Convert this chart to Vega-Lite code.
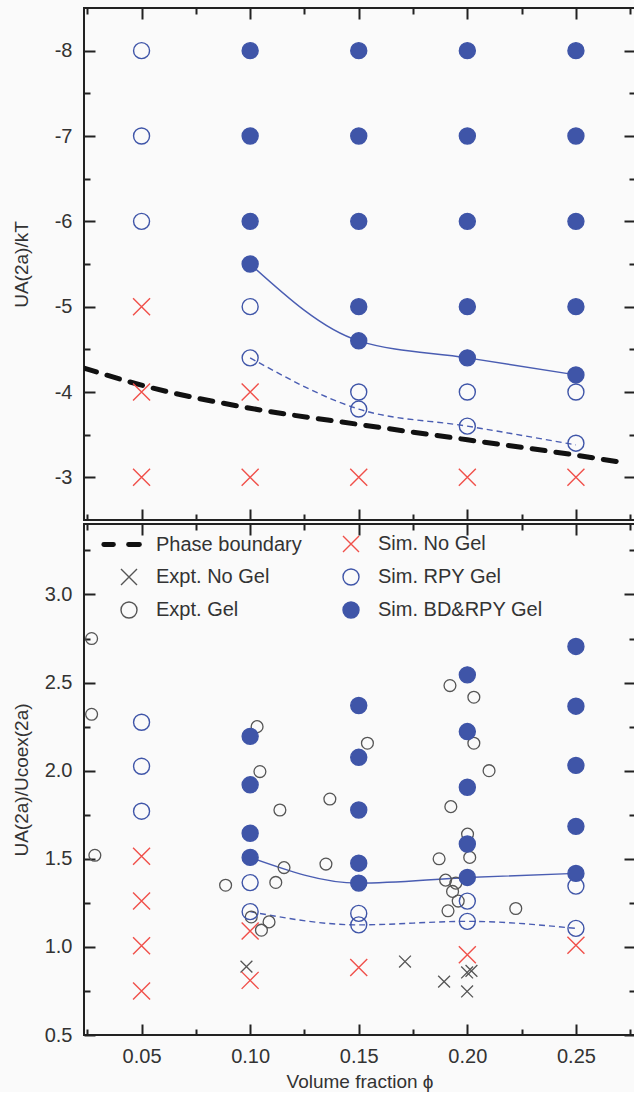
{
  "$schema": "https://vega.github.io/schema/vega-lite/v6.json",
  "background": "#fafafa",
  "padding": {"left": 11, "top": 6, "right": 0, "bottom": 0},
  "spacing": 0,
  "config": {
    "font": "Liberation Sans",
    "view": {"stroke": "#222", "strokeWidth": 2},
    "axis": {"domain": false, "grid": false, "tickColor": "#222", "tickWidth": 2, "labelFont": "Liberation Sans", "labelFontSize": 20, "labelColor": "#333", "labelFlush": false, "labelOverlap": false, "titleFont": "Liberation Sans", "titleFontSize": 19, "titleFontWeight": "normal", "titleColor": "#333"},
    "legend": {"labelFont": "Liberation Sans", "labelFontSize": 20, "labelColor": "#333", "labelLimit": 400}
  },
  "datasets": {
    "topPts": [
      {"phi": 0.05, "u": -8, "series": "Sim. RPY Gel"},
      {"phi": 0.05, "u": -7, "series": "Sim. RPY Gel"},
      {"phi": 0.05, "u": -6, "series": "Sim. RPY Gel"},
      {"phi": 0.05, "u": -5, "series": "Sim. No Gel"},
      {"phi": 0.05, "u": -4, "series": "Sim. No Gel"},
      {"phi": 0.05, "u": -3, "series": "Sim. No Gel"},
      {"phi": 0.10, "u": -8, "series": "Sim. BD&RPY Gel"},
      {"phi": 0.10, "u": -7, "series": "Sim. BD&RPY Gel"},
      {"phi": 0.10, "u": -6, "series": "Sim. BD&RPY Gel"},
      {"phi": 0.10, "u": -5.5, "series": "Sim. BD&RPY Gel"},
      {"phi": 0.10, "u": -5, "series": "Sim. RPY Gel"},
      {"phi": 0.10, "u": -4.4, "series": "Sim. RPY Gel"},
      {"phi": 0.10, "u": -4, "series": "Sim. No Gel"},
      {"phi": 0.10, "u": -3, "series": "Sim. No Gel"},
      {"phi": 0.15, "u": -8, "series": "Sim. BD&RPY Gel"},
      {"phi": 0.15, "u": -7, "series": "Sim. BD&RPY Gel"},
      {"phi": 0.15, "u": -6, "series": "Sim. BD&RPY Gel"},
      {"phi": 0.15, "u": -5, "series": "Sim. BD&RPY Gel"},
      {"phi": 0.15, "u": -4.6, "series": "Sim. BD&RPY Gel"},
      {"phi": 0.15, "u": -4.0, "series": "Sim. RPY Gel"},
      {"phi": 0.15, "u": -3.8, "series": "Sim. RPY Gel"},
      {"phi": 0.15, "u": -3, "series": "Sim. No Gel"},
      {"phi": 0.20, "u": -8, "series": "Sim. BD&RPY Gel"},
      {"phi": 0.20, "u": -7, "series": "Sim. BD&RPY Gel"},
      {"phi": 0.20, "u": -6, "series": "Sim. BD&RPY Gel"},
      {"phi": 0.20, "u": -5, "series": "Sim. BD&RPY Gel"},
      {"phi": 0.20, "u": -4.4, "series": "Sim. BD&RPY Gel"},
      {"phi": 0.20, "u": -4.0, "series": "Sim. RPY Gel"},
      {"phi": 0.20, "u": -3.6, "series": "Sim. RPY Gel"},
      {"phi": 0.20, "u": -3, "series": "Sim. No Gel"},
      {"phi": 0.25, "u": -8, "series": "Sim. BD&RPY Gel"},
      {"phi": 0.25, "u": -7, "series": "Sim. BD&RPY Gel"},
      {"phi": 0.25, "u": -6, "series": "Sim. BD&RPY Gel"},
      {"phi": 0.25, "u": -5, "series": "Sim. BD&RPY Gel"},
      {"phi": 0.25, "u": -4.2, "series": "Sim. BD&RPY Gel"},
      {"phi": 0.25, "u": -4.0, "series": "Sim. RPY Gel"},
      {"phi": 0.25, "u": -3.4, "series": "Sim. RPY Gel"},
      {"phi": 0.25, "u": -3, "series": "Sim. No Gel"}
    ],
    "topLines": [
      {"phi": 0.10, "u": -5.5, "line": "solid"},
      {"phi": 0.15, "u": -4.6, "line": "solid"},
      {"phi": 0.20, "u": -4.4, "line": "solid"},
      {"phi": 0.25, "u": -4.2, "line": "solid"},
      {"phi": 0.10, "u": -4.4, "line": "dashed"},
      {"phi": 0.15, "u": -3.8, "line": "dashed"},
      {"phi": 0.20, "u": -3.6, "line": "dashed"},
      {"phi": 0.25, "u": -3.38, "line": "dashed"}
    ],
    "boundary": [
      {"phi": 0.0235, "u": -4.28},
      {"phi": 0.05, "u": -4.08},
      {"phi": 0.10, "u": -3.81},
      {"phi": 0.15, "u": -3.62},
      {"phi": 0.20, "u": -3.44},
      {"phi": 0.25, "u": -3.26},
      {"phi": 0.27, "u": -3.18}
    ],
    "botExpt": [
      {"phi": 0.027, "r": 2.75, "series": "Expt. Gel"},
      {"phi": 0.027, "r": 2.32, "series": "Expt. Gel"},
      {"phi": 0.0285, "r": 1.52, "series": "Expt. Gel"},
      {"phi": 0.0887, "r": 1.35, "series": "Expt. Gel"},
      {"phi": 0.1005, "r": 1.17, "series": "Expt. Gel"},
      {"phi": 0.1032, "r": 2.25, "series": "Expt. Gel"},
      {"phi": 0.1045, "r": 1.995, "series": "Expt. Gel"},
      {"phi": 0.1052, "r": 1.095, "series": "Expt. Gel"},
      {"phi": 0.1087, "r": 1.142, "series": "Expt. Gel"},
      {"phi": 0.1118, "r": 1.366, "series": "Expt. Gel"},
      {"phi": 0.1137, "r": 1.777, "series": "Expt. Gel"},
      {"phi": 0.1156, "r": 1.45, "series": "Expt. Gel"},
      {"phi": 0.1349, "r": 1.47, "series": "Expt. Gel"},
      {"phi": 0.1367, "r": 1.839, "series": "Expt. Gel"},
      {"phi": 0.154, "r": 2.156, "series": "Expt. Gel"},
      {"phi": 0.187, "r": 1.5, "series": "Expt. Gel"},
      {"phi": 0.19, "r": 1.379, "series": "Expt. Gel"},
      {"phi": 0.1911, "r": 1.205, "series": "Expt. Gel"},
      {"phi": 0.192, "r": 2.483, "series": "Expt. Gel"},
      {"phi": 0.1924, "r": 1.796, "series": "Expt. Gel"},
      {"phi": 0.1932, "r": 1.315, "series": "Expt. Gel"},
      {"phi": 0.1947, "r": 1.362, "series": "Expt. Gel"},
      {"phi": 0.1958, "r": 1.26, "series": "Expt. Gel"},
      {"phi": 0.2001, "r": 1.64, "series": "Expt. Gel"},
      {"phi": 0.2011, "r": 1.508, "series": "Expt. Gel"},
      {"phi": 0.203, "r": 2.417, "series": "Expt. Gel"},
      {"phi": 0.203, "r": 2.156, "series": "Expt. Gel"},
      {"phi": 0.21, "r": 2.0, "series": "Expt. Gel"},
      {"phi": 0.2223, "r": 1.218, "series": "Expt. Gel"},
      {"phi": 0.0983, "r": 0.888, "series": "Expt. No Gel"},
      {"phi": 0.1713, "r": 0.917, "series": "Expt. No Gel"},
      {"phi": 0.1893, "r": 0.803, "series": "Expt. No Gel"},
      {"phi": 0.1999, "r": 0.855, "series": "Expt. No Gel"},
      {"phi": 0.2019, "r": 0.864, "series": "Expt. No Gel"},
      {"phi": 0.1999, "r": 0.747, "series": "Expt. No Gel"}
    ],
    "botSim": [
      {"phi": 0.05, "r": 2.275, "series": "Sim. RPY Gel"},
      {"phi": 0.05, "r": 2.025, "series": "Sim. RPY Gel"},
      {"phi": 0.05, "r": 1.77, "series": "Sim. RPY Gel"},
      {"phi": 0.10, "r": 1.365, "series": "Sim. RPY Gel"},
      {"phi": 0.10, "r": 1.2, "series": "Sim. RPY Gel"},
      {"phi": 0.15, "r": 1.19, "series": "Sim. RPY Gel"},
      {"phi": 0.15, "r": 1.125, "series": "Sim. RPY Gel"},
      {"phi": 0.20, "r": 1.26, "series": "Sim. RPY Gel"},
      {"phi": 0.20, "r": 1.145, "series": "Sim. RPY Gel"},
      {"phi": 0.25, "r": 1.345, "series": "Sim. RPY Gel"},
      {"phi": 0.25, "r": 1.105, "series": "Sim. RPY Gel"},
      {"phi": 0.10, "r": 2.195, "series": "Sim. BD&RPY Gel"},
      {"phi": 0.10, "r": 1.92, "series": "Sim. BD&RPY Gel"},
      {"phi": 0.10, "r": 1.645, "series": "Sim. BD&RPY Gel"},
      {"phi": 0.10, "r": 1.508, "series": "Sim. BD&RPY Gel"},
      {"phi": 0.15, "r": 2.37, "series": "Sim. BD&RPY Gel"},
      {"phi": 0.15, "r": 2.076, "series": "Sim. BD&RPY Gel"},
      {"phi": 0.15, "r": 1.777, "series": "Sim. BD&RPY Gel"},
      {"phi": 0.15, "r": 1.475, "series": "Sim. BD&RPY Gel"},
      {"phi": 0.15, "r": 1.362, "series": "Sim. BD&RPY Gel"},
      {"phi": 0.20, "r": 2.544, "series": "Sim. BD&RPY Gel"},
      {"phi": 0.20, "r": 2.222, "series": "Sim. BD&RPY Gel"},
      {"phi": 0.20, "r": 1.906, "series": "Sim. BD&RPY Gel"},
      {"phi": 0.20, "r": 1.584, "series": "Sim. BD&RPY Gel"},
      {"phi": 0.20, "r": 1.394, "series": "Sim. BD&RPY Gel"},
      {"phi": 0.25, "r": 2.705, "series": "Sim. BD&RPY Gel"},
      {"phi": 0.25, "r": 2.366, "series": "Sim. BD&RPY Gel"},
      {"phi": 0.25, "r": 2.03, "series": "Sim. BD&RPY Gel"},
      {"phi": 0.25, "r": 1.684, "series": "Sim. BD&RPY Gel"},
      {"phi": 0.25, "r": 1.417, "series": "Sim. BD&RPY Gel"},
      {"phi": 0.05, "r": 1.514, "series": "Sim. No Gel"},
      {"phi": 0.05, "r": 1.26, "series": "Sim. No Gel"},
      {"phi": 0.05, "r": 1.006, "series": "Sim. No Gel"},
      {"phi": 0.05, "r": 0.75, "series": "Sim. No Gel"},
      {"phi": 0.10, "r": 1.09, "series": "Sim. No Gel"},
      {"phi": 0.10, "r": 0.81, "series": "Sim. No Gel"},
      {"phi": 0.15, "r": 0.883, "series": "Sim. No Gel"},
      {"phi": 0.20, "r": 0.955, "series": "Sim. No Gel"},
      {"phi": 0.25, "r": 1.01, "series": "Sim. No Gel"}
    ],
    "botLines": [
      {"phi": 0.10, "r": 1.508, "line": "solid"},
      {"phi": 0.15, "r": 1.362, "line": "solid"},
      {"phi": 0.20, "r": 1.394, "line": "solid"},
      {"phi": 0.25, "r": 1.417, "line": "solid"},
      {"phi": 0.10, "r": 1.2, "line": "dashed"},
      {"phi": 0.15, "r": 1.125, "line": "dashed"},
      {"phi": 0.20, "r": 1.145, "line": "dashed"},
      {"phi": 0.25, "r": 1.105, "line": "dashed"}
    ]
  },
  "resolve": {"scale": {"shape": "independent", "stroke": "independent", "fill": "independent"}},
  "vconcat": [
    {
      "width": 551,
      "height": 512,
      "resolve": {"axis": {"x": "independent", "y": "independent"}},
      "layer": [
        {
          "data": {"name": "boundary"},
          "mark": {"type": "line", "color": "#111", "strokeWidth": 5, "strokeDash": [13, 11], "strokeCap": "round", "interpolate": "monotone", "clip": true},
          "encoding": {
            "x": {"field": "phi", "type": "quantitative", "scale": {"domain": [0.0235, 0.2772], "nice": false, "zero": false},
                  "axis": {"orient": "bottom", "values": [0.05, 0.1, 0.15, 0.2, 0.25], "tickSize": -11, "labels": false, "title": null}},
            "y": {"field": "u", "type": "quantitative", "scale": {"domain": [-8.5, -2.5], "reverse": true, "nice": false, "zero": false},
                  "axis": {"orient": "left", "values": [-8, -7, -6, -5, -4, -3], "tickSize": -11, "labelPadding": 23, "labelExpr": "'-' + abs(datum.value)", "title": "UA(2a)/kT", "titlePadding": 17, "minExtent": 36, "maxExtent": 36}}
          }
        },
        {
          "data": {"name": "topLines"},
          "transform": [{"filter": "datum.line === 'solid'"}],
          "mark": {"type": "line", "color": "#4a5db2", "strokeWidth": 1.4, "interpolate": "monotone"},
          "encoding": {
            "x": {"field": "phi", "type": "quantitative", "scale": {"domain": [0.0235, 0.2772], "nice": false, "zero": false},
                  "axis": {"orient": "bottom", "values": [0.025, 0.075, 0.125, 0.175, 0.225, 0.275], "tickSize": -6, "labels": false, "title": null}},
            "y": {"field": "u", "type": "quantitative", "scale": {"domain": [-8.5, -2.5], "reverse": true, "nice": false, "zero": false},
                  "axis": {"orient": "left", "values": [-7.5, -6.5, -5.5, -4.5, -3.5], "tickSize": -6, "labels": false, "title": null}}
          }
        },
        {
          "data": {"name": "topLines"},
          "transform": [{"filter": "datum.line === 'dashed'"}],
          "mark": {"type": "line", "color": "#4a5db2", "strokeWidth": 1.4, "strokeDash": [6, 4], "interpolate": "monotone"},
          "encoding": {
            "x": {"field": "phi", "type": "quantitative", "scale": {"domain": [0.0235, 0.2772], "nice": false, "zero": false},
                  "axis": {"orient": "top", "values": [0.05, 0.1, 0.15, 0.2, 0.25], "tickSize": -11, "labels": false, "title": null}},
            "y": {"field": "u", "type": "quantitative", "scale": {"domain": [-8.5, -2.5], "reverse": true, "nice": false, "zero": false},
                  "axis": {"orient": "right", "values": [-8, -7, -6, -5, -4, -3], "tickSize": -11, "labels": false, "title": null}}
          }
        },
        {
          "data": {"name": "topPts"},
          "mark": {"type": "point", "opacity": 1, "strokeWidth": 1.4},
          "encoding": {
            "x": {"field": "phi", "type": "quantitative", "scale": {"domain": [0.0235, 0.2772], "nice": false, "zero": false},
                  "axis": {"orient": "top", "values": [0.025, 0.075, 0.125, 0.175, 0.225, 0.275], "tickSize": -6, "labels": false, "title": null}},
            "y": {"field": "u", "type": "quantitative", "scale": {"domain": [-8.5, -2.5], "reverse": true, "nice": false, "zero": false},
                  "axis": {"orient": "right", "values": [-7.5, -6.5, -5.5, -4.5, -3.5], "tickSize": -6, "labels": false, "title": null}},
            "shape": {"field": "series", "type": "nominal", "legend": null,
                      "scale": {"domain": ["Phase boundary", "Expt. No Gel", "Expt. Gel", "Sim. No Gel", "Sim. RPY Gel", "Sim. BD&RPY Gel"],
                                "range": ["M-3.15,-0.22L-1.95,-0.22A0.22,0.22 0 0 1 -1.95,0.22L-3.15,0.22A0.22,0.22 0 0 1 -3.15,-0.22ZM-0.05,-0.22L1.3,-0.22A0.22,0.22 0 0 1 1.3,0.22L-0.05,0.22A0.22,0.22 0 0 1 -0.05,-0.22Z", "M-1,-1L1,1M-1,1L1,-1", "circle", "M-1,-1L1,1M-1,1L1,-1", "circle", "circle"]}},
            "stroke": {"field": "series", "type": "nominal", "legend": null,
                       "scale": {"domain": ["Phase boundary", "Expt. No Gel", "Expt. Gel", "Sim. No Gel", "Sim. RPY Gel", "Sim. BD&RPY Gel"],
                                 "range": ["#111111", "#555555", "#555555", "#f0504a", "#3f55a8", "#3f55a8"]}},
            "fill": {"field": "series", "type": "nominal", "legend": null,
                     "scale": {"domain": ["Phase boundary", "Expt. No Gel", "Expt. Gel", "Sim. No Gel", "Sim. RPY Gel", "Sim. BD&RPY Gel"],
                               "range": ["#111111", "transparent", "transparent", "transparent", "transparent", "#3f55a8"]}},
            "size": {"condition": [{"test": "datum.series === 'Sim. No Gel'", "value": 289}], "value": 256}
          }
        }
      ]
    },
    {
      "width": 551,
      "height": 511,
      "resolve": {"axis": {"x": "independent", "y": "independent"}},
      "layer": [
        {
          "data": {"name": "botLines"},
          "transform": [{"filter": "datum.line === 'solid'"}],
          "mark": {"type": "line", "color": "#4a5db2", "strokeWidth": 1.4, "interpolate": "monotone"},
          "encoding": {
            "x": {"field": "phi", "type": "quantitative", "scale": {"domain": [0.0235, 0.2772], "nice": false, "zero": false},
                  "axis": {"orient": "bottom", "values": [0.05, 0.1, 0.15, 0.2, 0.25], "format": ".2f", "tickSize": -11, "labelPadding": 22, "title": "Volume fraction  ϕ", "titlePadding": 6}},
            "y": {"field": "r", "type": "quantitative", "scale": {"domain": [0.5, 3.4], "nice": false, "zero": false},
                  "axis": {"orient": "left", "values": [0.5, 1.0, 1.5, 2.0, 2.5, 3.0], "format": ".1f", "tickSize": -11, "labelPadding": 23, "title": "UA(2a)/Ucoex(2a)", "titlePadding": 17, "minExtent": 36, "maxExtent": 36}}
          }
        },
        {
          "data": {"name": "botLines"},
          "transform": [{"filter": "datum.line === 'dashed'"}],
          "mark": {"type": "line", "color": "#4a5db2", "strokeWidth": 1.4, "strokeDash": [6, 4], "interpolate": "monotone"},
          "encoding": {
            "x": {"field": "phi", "type": "quantitative", "scale": {"domain": [0.0235, 0.2772], "nice": false, "zero": false},
                  "axis": {"orient": "bottom", "values": [0.025, 0.075, 0.125, 0.175, 0.225, 0.275], "tickSize": -6, "labels": false, "title": null}},
            "y": {"field": "r", "type": "quantitative", "scale": {"domain": [0.5, 3.4], "nice": false, "zero": false},
                  "axis": {"orient": "left", "values": [0.75, 1.25, 1.75, 2.25, 2.75, 3.25], "tickSize": -6, "labels": false, "title": null}}
          }
        },
        {
          "data": {"name": "botExpt"},
          "mark": {"type": "point", "opacity": 1, "strokeWidth": 1.3},
          "encoding": {
            "x": {"field": "phi", "type": "quantitative", "scale": {"domain": [0.0235, 0.2772], "nice": false, "zero": false},
                  "axis": {"orient": "top", "values": [0.05, 0.1, 0.15, 0.2, 0.25], "tickSize": -11, "labels": false, "title": null}},
            "y": {"field": "r", "type": "quantitative", "scale": {"domain": [0.5, 3.4], "nice": false, "zero": false},
                  "axis": {"orient": "right", "values": [0.5, 1.0, 1.5, 2.0, 2.5, 3.0], "tickSize": -11, "labels": false, "title": null}},
            "shape": {"field": "series", "type": "nominal",
                      "scale": {"domain": ["Phase boundary", "Expt. No Gel", "Expt. Gel", "Sim. No Gel", "Sim. RPY Gel", "Sim. BD&RPY Gel"],
                                "range": ["M-3.15,-0.22L-1.95,-0.22A0.22,0.22 0 0 1 -1.95,0.22L-3.15,0.22A0.22,0.22 0 0 1 -3.15,-0.22ZM-0.05,-0.22L1.3,-0.22A0.22,0.22 0 0 1 1.3,0.22L-0.05,0.22A0.22,0.22 0 0 1 -0.05,-0.22Z", "M-1,-1L1,1M-1,1L1,-1", "circle", "M-1,-1L1,1M-1,1L1,-1", "circle", "circle"]},
                      "legend": {"orient": "none", "legendX": 35, "legendY": 10, "columns": 2, "columnPadding": 38, "rowPadding": 11, "labelOffset": 17, "symbolSize": 256, "symbolStrokeWidth": 1.4, "padding": 0, "title": null,
                                 "encode": {"symbols": {"size": {"condition": [{"test": "datum.value === 'Expt. No Gel' || datum.value === 'Expt. Gel'", "value": 150}, {"test": "datum.value === 'Sim. No Gel'", "value": 289}], "value": 256}}}}},
            "stroke": {"field": "series", "type": "nominal",
                       "scale": {"domain": ["Phase boundary", "Expt. No Gel", "Expt. Gel", "Sim. No Gel", "Sim. RPY Gel", "Sim. BD&RPY Gel"],
                                 "range": ["#111111", "#555555", "#555555", "#f0504a", "#3f55a8", "#3f55a8"]},
                       "legend": {"orient": "none", "legendX": 35, "legendY": 10, "columns": 2, "columnPadding": 38, "rowPadding": 11, "labelOffset": 17, "symbolSize": 256, "symbolStrokeWidth": 1.4, "padding": 0, "title": null,
                                  "encode": {"symbols": {"size": {"condition": [{"test": "datum.value === 'Expt. No Gel' || datum.value === 'Expt. Gel'", "value": 150}, {"test": "datum.value === 'Sim. No Gel'", "value": 289}], "value": 256}}}}},
            "fill": {"field": "series", "type": "nominal",
                     "scale": {"domain": ["Phase boundary", "Expt. No Gel", "Expt. Gel", "Sim. No Gel", "Sim. RPY Gel", "Sim. BD&RPY Gel"],
                               "range": ["#111111", "transparent", "transparent", "transparent", "transparent", "#3f55a8"]},
                     "legend": {"orient": "none", "legendX": 35, "legendY": 10, "columns": 2, "columnPadding": 38, "rowPadding": 11, "labelOffset": 17, "symbolSize": 256, "symbolStrokeWidth": 1.4, "padding": 0, "title": null,
                                "encode": {"symbols": {"size": {"condition": [{"test": "datum.value === 'Expt. No Gel' || datum.value === 'Expt. Gel'", "value": 150}, {"test": "datum.value === 'Sim. No Gel'", "value": 289}], "value": 256}}}}},
            "size": {"value": 140}
          }
        },
        {
          "data": {"name": "botSim"},
          "mark": {"type": "point", "opacity": 1, "strokeWidth": 1.4},
          "encoding": {
            "x": {"field": "phi", "type": "quantitative", "scale": {"domain": [0.0235, 0.2772], "nice": false, "zero": false},
                  "axis": {"orient": "top", "values": [0.025, 0.075, 0.125, 0.175, 0.225, 0.275], "tickSize": -6, "labels": false, "title": null}},
            "y": {"field": "r", "type": "quantitative", "scale": {"domain": [0.5, 3.4], "nice": false, "zero": false},
                  "axis": {"orient": "right", "values": [0.75, 1.25, 1.75, 2.25, 2.75, 3.25], "tickSize": -6, "labels": false, "title": null}},
            "shape": {"field": "series", "type": "nominal",
                      "scale": {"domain": ["Phase boundary", "Expt. No Gel", "Expt. Gel", "Sim. No Gel", "Sim. RPY Gel", "Sim. BD&RPY Gel"],
                                "range": ["M-3.15,-0.22L-1.95,-0.22A0.22,0.22 0 0 1 -1.95,0.22L-3.15,0.22A0.22,0.22 0 0 1 -3.15,-0.22ZM-0.05,-0.22L1.3,-0.22A0.22,0.22 0 0 1 1.3,0.22L-0.05,0.22A0.22,0.22 0 0 1 -0.05,-0.22Z", "M-1,-1L1,1M-1,1L1,-1", "circle", "M-1,-1L1,1M-1,1L1,-1", "circle", "circle"]}},
            "stroke": {"field": "series", "type": "nominal",
                       "scale": {"domain": ["Phase boundary", "Expt. No Gel", "Expt. Gel", "Sim. No Gel", "Sim. RPY Gel", "Sim. BD&RPY Gel"],
                                 "range": ["#111111", "#555555", "#555555", "#f0504a", "#3f55a8", "#3f55a8"]}},
            "fill": {"field": "series", "type": "nominal",
                     "scale": {"domain": ["Phase boundary", "Expt. No Gel", "Expt. Gel", "Sim. No Gel", "Sim. RPY Gel", "Sim. BD&RPY Gel"],
                               "range": ["#111111", "transparent", "transparent", "transparent", "transparent", "#3f55a8"]}},
            "size": {"condition": [{"test": "datum.series === 'Sim. No Gel'", "value": 289}], "value": 256}
          }
        }
      ]
    }
  ]
}
